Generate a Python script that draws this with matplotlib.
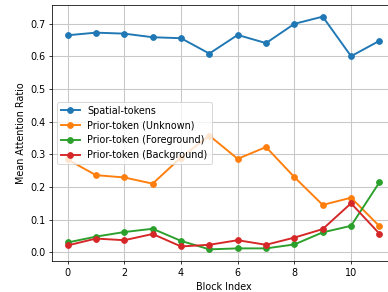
import matplotlib
matplotlib.use("Agg")
import matplotlib.pyplot as plt

# mean attention ratio per transformer block
blocks = list(range(12))
spatial = [0.664, 0.672, 0.669, 0.658, 0.655, 0.608, 0.665, 0.640, 0.699, 0.721, 0.600, 0.647]
unknown = [0.284, 0.236, 0.229, 0.210, 0.290, 0.357, 0.286, 0.322, 0.230, 0.145, 0.167, 0.080]
foreground = [0.030, 0.048, 0.062, 0.072, 0.035, 0.009, 0.012, 0.012, 0.024, 0.061, 0.081, 0.214]
background = [0.021, 0.042, 0.037, 0.056, 0.018, 0.023, 0.037, 0.023, 0.045, 0.071, 0.150, 0.057]

series = [
    ("Spatial-tokens", spatial),
    ("Prior-token (Unknown)", unknown),
    ("Prior-token (Foreground)", foreground),
    ("Prior-token (Background)", background),
]

dpi = 69
fig = plt.figure(figsize=(388 / dpi, 292 / dpi), dpi=dpi)
# right edge of the axes runs past the image (original was cropped)
ax = fig.add_axes([52 / 388, 31 / 292, (395 - 52) / 388, (261 - 5) / 292])

for label, vals in series:
    ax.plot(blocks, vals, marker="o", lw=2, ms=6, label=label)

ax.set_xlabel("Block Index")
ax.set_ylabel("Mean Attention Ratio")
ax.grid(True, color="#c8c8c8", lw=1.1)
ax.legend(loc="center left")

fig.savefig("out.png", dpi=dpi)
